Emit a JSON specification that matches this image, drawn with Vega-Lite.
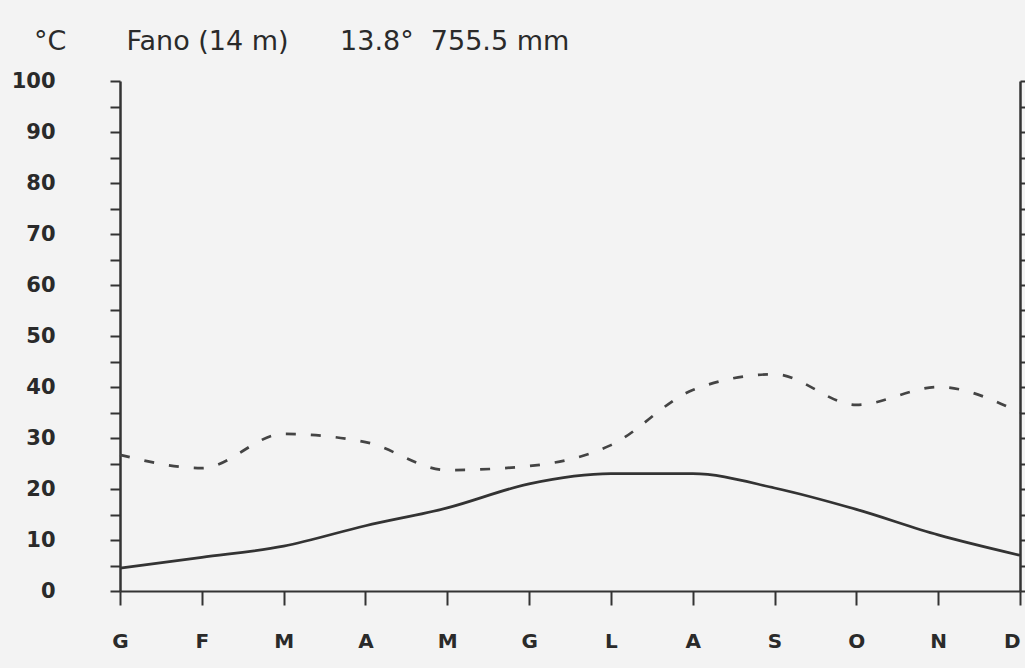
{
  "$schema": "https://vega.github.io/schema/vega-lite/v6.json",
  "width": 900,
  "height": 510,
  "autosize": {"type": "none"},
  "padding": {"left": 120, "top": 81, "right": 5, "bottom": 77},
  "background": "#f3f3f3",
  "config": {"view": {"stroke": null}, "font": "DejaVu Sans"},
  "title": {
    "text": "°C\u00a0\u00a0\u00a0\u00a0\u00a0\u00a0\u00a0Fano (14 m)\u00a0\u00a0\u00a0\u00a0\u00a0\u00a013.8°\u00a0\u00a0755.5 mm",
    "anchor": "start",
    "frame": "group",
    "dx": -86,
    "dy": 27,
    "offset": 20,
    "baseline": "alphabetic",
    "fontSize": 27,
    "fontWeight": "normal",
    "color": "#2a2a2a",
    "font": "DejaVu Sans"
  },
  "data": {
    "values": [
      {"m": 1, "t": 4.5, "p": 26.7},
      {"m": 2, "t": 6.6, "p": 24.1},
      {"m": 3, "t": 8.8, "p": 30.8},
      {"m": 4, "t": 12.8, "p": 29.2},
      {"m": 5, "t": 16.3, "p": 23.7},
      {"m": 6, "t": 21.0, "p": 24.5},
      {"m": 7, "t": 23.0, "p": 28.6},
      {"m": 8, "t": 23.0, "p": 39.4},
      {"m": 9, "t": 20.2, "p": 42.5},
      {"m": 10, "t": 16.0, "p": 36.5},
      {"m": 11, "t": 11.0, "p": 40.0},
      {"m": 12, "t": 7.0, "p": 35.0}
    ]
  },
  "encoding": {
    "x": {
      "field": "m",
      "type": "quantitative",
      "scale": {"domain": [1, 12], "nice": false, "zero": false},
      "axis": {
        "title": null,
        "grid": false,
        "values": [1, 2, 3, 4, 5, 6, 7, 8, 9, 10, 11, 12],
        "labelExpr": "['G','F','M','A','M','G','L','A','S','O','N','D'][datum.value - 1]",
        "labelAlign": {"condition": {"test": "datum.value === 12", "value": "right"}, "value": "center"},
        "tickSize": 14,
        "tickWidth": 2,
        "tickColor": "#333",
        "domainColor": "#333",
        "domainWidth": 2,
        "labelPadding": 26,
        "labelFontSize": 20,
        "labelFontWeight": "bold",
        "labelColor": "#2a2a2a",
        "labelFlush": false,
        "labelOverlap": false
      }
    }
  },
  "layer": [
    {
      "mark": {"type": "line", "interpolate": "monotone", "color": "#333", "strokeWidth": 2.7},
      "encoding": {
        "y": {
          "field": "t",
          "type": "quantitative",
          "scale": {"domain": [0, 100], "nice": false},
          "axis": {
            "orient": "left",
            "title": null,
            "grid": false,
            "values": [0, 5, 10, 15, 20, 25, 30, 35, 40, 45, 50, 55, 60, 65, 70, 75, 80, 85, 90, 95, 100],
            "labelExpr": "datum.value % 10 === 0 ? datum.label : ''",
            "tickSize": 10,
            "tickWidth": 2,
            "tickColor": "#333",
            "domainColor": "#333",
            "domainWidth": 2.5,
            "labelPadding": 55,
            "labelFontSize": 21,
            "labelFontWeight": "bold",
            "labelColor": "#2a2a2a",
            "labelFlush": false,
            "labelOverlap": false
          }
        }
      }
    },
    {
      "mark": {"type": "line", "interpolate": "monotone", "color": "#444", "strokeWidth": 2.7, "strokeDash": [10, 15]},
      "encoding": {
        "y": {
          "field": "p",
          "type": "quantitative",
          "axis": {
            "orient": "right",
            "title": null,
            "grid": false,
            "labels": false,
            "values": [0, 5, 10, 15, 20, 25, 30, 35, 40, 45, 50, 55, 60, 65, 70, 75, 80, 85, 90, 95, 100],
            "tickSize": 5,
            "tickWidth": 2,
            "tickColor": "#333",
            "domainColor": "#333",
            "domainWidth": 2.5
          }
        }
      }
    }
  ],
  "resolve": {"axis": {"y": "independent"}}
}
